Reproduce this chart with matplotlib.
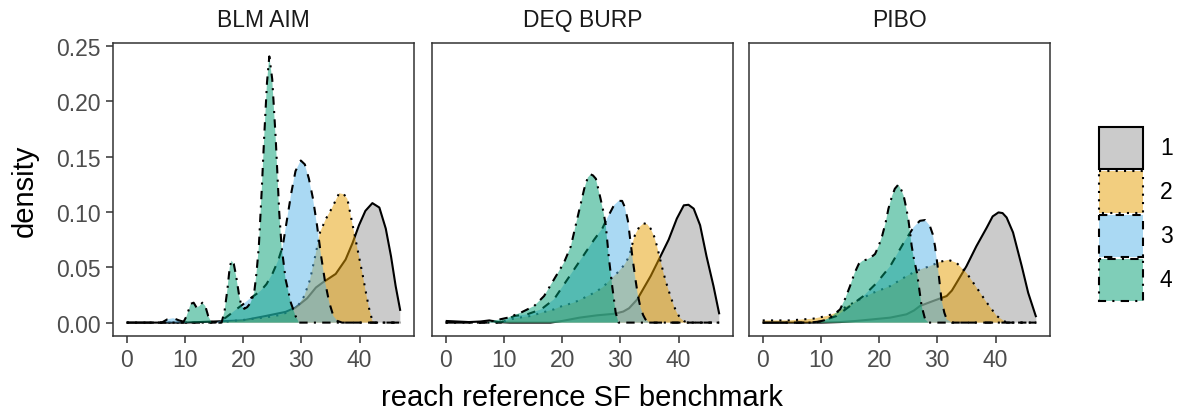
import matplotlib
matplotlib.use("Agg")
import matplotlib.pyplot as plt
from matplotlib.patches import Rectangle

plt.rcParams['font.family'] = ['Liberation Sans', 'DejaVu Sans']

# ---------------- data ----------------
panels = ["BLM AIM", "DEQ BURP", "PIBO"]
groups = ["1", "2", "3", "4"]
colors = ["#999999", "#E69F00", "#56B4E9", "#009E73"]
xticks = [0, 10, 20, 30, 40]
yticks = [0.00, 0.05, 0.10, 0.15, 0.20, 0.25]

# BLM AIM
blm_x1 = [0, 10, 15, 20, 23.9, 27.3, 29, 31, 32.5, 33.6, 35.9, 37.6, 38.8, 39.9, 41, 42.2, 43.4, 44.5, 45.4, 46.2, 47]
blm_y1 = [0, 0, 0.001, 0.002, 0.006, 0.0097, 0.0136, 0.022, 0.0317, 0.036, 0.044, 0.057, 0.072, 0.088, 0.101, 0.108, 0.104, 0.085, 0.06, 0.033, 0.0106]
blm_x2 = [0, 15.8, 18, 20, 22, 24, 26, 27.5, 28.5, 29.6, 30.5, 31.5, 32.5, 33.2, 34.2, 35.3, 36.5, 37.3, 37.9, 38.6, 39.3, 40, 40.5, 41.1, 41.6, 42.2, 42.7, 47]
blm_y2 = [0, 0, 0.0015, 0.0024, 0.0036, 0.0048, 0.0066, 0.009, 0.012, 0.0166, 0.024, 0.039, 0.063, 0.0815, 0.0936, 0.104, 0.117, 0.116, 0.112, 0.0936, 0.0755, 0.057, 0.044, 0.027, 0.0136, 0.0015, 0, 0]
blm_x3 = [0, 6, 7, 8, 9, 10, 11, 15.2, 16, 17, 18, 19, 20, 21, 22, 23, 24, 25, 26, 26.8, 27.5, 28.3, 29, 29.9, 30.6, 31.3, 32, 32.7, 33.4, 34.1, 34.8, 35.5, 36.2, 37, 47]
blm_y3 = [0, 0, 0.003, 0.004, 0.002, 0.0005, 0, 0, 0.0015, 0.0045, 0.0085, 0.0127, 0.0166, 0.021, 0.0248, 0.0287, 0.0347, 0.0438, 0.0559, 0.069, 0.092, 0.118, 0.137, 0.1465, 0.143, 0.13, 0.112, 0.0876, 0.06, 0.036, 0.018, 0.006, 0.0015, 0, 0]
blm_x4 = [0, 9.7, 10.3, 11, 11.5, 12, 12.5, 13, 13.5, 14, 14.5, 15, 16.3, 16.8, 17.3, 17.7, 18, 18.4, 18.8, 19.3, 19.7, 20.2, 20.7, 21.3, 21.9, 22.3, 22.7, 23.2, 23.6, 24.1, 24.5, 25, 25.6, 26.2, 26.6, 27.3, 28.2, 29, 29.6, 47]
blm_y4 = [0, 0, 0.006, 0.017, 0.018, 0.0136, 0.015, 0.018, 0.015, 0.006, 0.001, 0, 0, 0.01, 0.03, 0.05, 0.056, 0.053, 0.042, 0.025, 0.015, 0.0125, 0.014, 0.018, 0.027, 0.045, 0.069, 0.12, 0.166, 0.217, 0.2406, 0.22, 0.166, 0.1, 0.069, 0.039, 0.018, 0.006, 0, 0]

# DEQ BURP
deq_x1 = [0, 2, 4, 6, 7.5, 9, 11, 18, 20, 23, 26, 29, 30.5, 31.5, 32.9, 35.2, 36.9, 38.3, 39.7, 40.9, 41.7, 42.6, 43.7, 44.8, 46, 47]
deq_y1 = [0.0015, 0.001, 0.0005, 0.001, 0.002, 0.0005, 0, 0, 0.0015, 0.0045, 0.0066, 0.008, 0.01, 0.013, 0.021, 0.042, 0.06, 0.075, 0.094, 0.106, 0.1065, 0.103, 0.088, 0.06, 0.033, 0.0075]
deq_x2 = [0, 9.5, 10.5, 12, 14.6, 16.5, 18.6, 20, 22, 24, 25.5, 27, 28.3, 29.3, 30, 30.8, 31.5, 32, 32.5, 33.2, 34, 34.6, 35.2, 35.8, 36.3, 36.8, 37.4, 38, 38.6, 39.2, 39.7, 40.3, 40.9, 41.5, 47]
deq_y2 = [0, 0, 0.002, 0.004, 0.006, 0.009, 0.012, 0.015, 0.018, 0.023, 0.027, 0.032, 0.039, 0.044, 0.048, 0.053, 0.06, 0.07, 0.079, 0.086, 0.0897, 0.089, 0.085, 0.078, 0.069, 0.058, 0.045, 0.034, 0.024, 0.015, 0.009, 0.004, 0.0015, 0, 0]
deq_x3 = [0, 9.5, 10.5, 11.8, 14, 16.4, 18.6, 20.9, 23.2, 25.5, 26.9, 27.7, 28.9, 29.7, 30.3, 30.8, 31.3, 31.7, 32.1, 32.6, 33, 33.4, 33.9, 34.3, 35, 47]
deq_y3 = [0, 0, 0.003, 0.006, 0.0075, 0.012, 0.021, 0.039, 0.057, 0.075, 0.085, 0.094, 0.106, 0.110, 0.11, 0.104, 0.092, 0.075, 0.058, 0.039, 0.025, 0.015, 0.007, 0.003, 0, 0]
deq_x4 = [0, 7, 8.5, 10.7, 12.9, 15.2, 16.9, 18.6, 20.3, 21.5, 22.6, 23.8, 24.4, 24.9, 25.3, 25.8, 26.6, 27.1, 27.5, 28, 28.6, 29.2, 29.7, 47]
deq_y4 = [0, 0, 0.002, 0.0045, 0.009, 0.015, 0.024, 0.039, 0.054, 0.069, 0.094, 0.121, 0.131, 0.134, 0.133, 0.13, 0.112, 0.1, 0.088, 0.06, 0.033, 0.009, 0, 0]

# PIBO
pibo_x1 = [0, 10, 13.3, 16, 19, 21.9, 24.7, 26, 27, 29.3, 31.6, 32.5, 33.3, 35, 36.7, 38.5, 39.5, 40.5, 41.2, 41.9, 43, 44.5, 45.6, 46.9, 47]
pibo_y1 = [0, 0, 0.0005, 0.0015, 0.003, 0.0045, 0.0075, 0.011, 0.015, 0.0196, 0.024, 0.029, 0.036, 0.051, 0.069, 0.086, 0.096, 0.0996, 0.099, 0.095, 0.0815, 0.051, 0.027, 0.006, 0.005]
pibo_x2 = [0, 4.7, 8.7, 11, 12.7, 14.5, 16.7, 19, 21.9, 24.7, 26.5, 28.7, 30.5, 31.9, 33.3, 35, 36.7, 38.5, 40.2, 41.9, 47]
pibo_y2 = [0.002, 0.002, 0.0036, 0.006, 0.009, 0.015, 0.021, 0.027, 0.033, 0.042, 0.047, 0.051, 0.055, 0.0567, 0.054, 0.045, 0.032, 0.018, 0.006, 0, 0]
pibo_x3 = [0, 8, 9.9, 11, 12.7, 15, 17.3, 19.6, 21.9, 24.2, 25.9, 27, 27.9, 28.7, 29.2, 29.6, 30.2, 30.7, 31.2, 31.6, 32.5, 47]
pibo_y3 = [0, 0, 0.001, 0.003, 0.006, 0.015, 0.024, 0.036, 0.051, 0.072, 0.086, 0.092, 0.0927, 0.0876, 0.08, 0.069, 0.045, 0.021, 0.009, 0.003, 0, 0]
pibo_x4 = [0, 9, 10.5, 11.6, 13.3, 14.2, 15, 15.8, 16.5, 17.2, 17.9, 18.6, 19.3, 19.9, 20.5, 21.1, 21.6, 22.2, 22.7, 23.3, 23.8, 24.2, 24.6, 25, 25.3, 25.6, 26, 26.5, 26.9, 27.3, 27.9, 28.5, 47]
pibo_y4 = [0, 0, 0.002, 0.0045, 0.012, 0.022, 0.033, 0.045, 0.053, 0.056, 0.057, 0.059, 0.062, 0.069, 0.078, 0.09, 0.103, 0.114, 0.121, 0.1247, 0.12, 0.115, 0.105, 0.094, 0.082, 0.069, 0.057, 0.045, 0.03, 0.015, 0.003, 0, 0]

curves = [
    [(blm_x1, blm_y1), (blm_x2, blm_y2), (blm_x3, blm_y3), (blm_x4, blm_y4)],
    [(deq_x1, deq_y1), (deq_x2, deq_y2), (deq_x3, deq_y3), (deq_x4, deq_y4)],
    [(pibo_x1, pibo_y1), (pibo_x2, pibo_y2), (pibo_x3, pibo_y3), (pibo_x4, pibo_y4)],
]

# ---------------- styling ----------------
W, H = 1178, 414
fig = plt.figure(figsize=(W / 100, H / 100), dpi=100)
linestyles = ["solid", (0, (1, 3)), (0, (4, 4)), (0, (1, 3, 4, 3))]
LW = 1.5
edge = "#333333"
tick_col = "#4D4D4D"
TS = 16.5

panel_left = [113, 432, 749]
panel_w = 301
p_top, p_bot = 44, 337

def fx(px):
    return px / W

def fy(py):
    return 1 - py / H

for i, name in enumerate(panels):
    ax = fig.add_axes([fx(panel_left[i]), fy(p_bot), panel_w / W, (p_bot - p_top) / H])
    for g in range(4):
        xs, ys = curves[i][g]
        ax.fill_between(xs, 0, ys, facecolor=colors[g], alpha=0.5, linewidth=0, zorder=2 + g)
        ax.plot(xs, ys, color="black", lw=LW, linestyle=linestyles[g], zorder=2 + g,
                solid_capstyle="butt", dash_capstyle="butt")
    ax.set_xlim(-2.35, 49.35)
    ax.set_ylim(-0.0121, 0.2527)
    ax.set_xticks(xticks)
    ax.set_xticklabels([str(t) for t in xticks])
    ax.set_yticks(yticks)
    if i == 0:
        ax.set_yticklabels([f"{t:.2f}" for t in yticks])
    else:
        ax.tick_params(axis="y", left=False, labelleft=False)
    ax.tick_params(axis="both", direction="out", length=5, width=1.1, color=edge,
                   labelsize=TS, labelcolor=tick_col, pad=4)
    for sp in ax.spines.values():
        sp.set_color(edge)
        sp.set_linewidth(1.1)
    ax.set_title(name, fontsize=TS, color="#1A1A1A", pad=12)

# axis titles
fig.text(fx((113 + 1050) / 2), fy(406), "reach reference SF benchmark", fontsize=21,
         ha="center", va="baseline")
fig.text(fx(25), fy((p_top + p_bot) / 2), "density", fontsize=21, rotation=90,
         ha="center", va="center")

# legend
lax = fig.add_axes([0, 0, 1, 1])
lax.set_xlim(0, W)
lax.set_ylim(H, 0)
lax.axis("off")
key_top = [128, 172, 216, 260]
for g in range(4):
    y0 = key_top[g]
    lax.add_patch(Rectangle((1099, y0), 44, 42, facecolor=colors[g], alpha=0.5,
                            edgecolor="none"))
    lax.add_patch(Rectangle((1099, y0), 44, 42, facecolor="none", edgecolor="black",
                            lw=LW, linestyle=linestyles[g]))
    lax.text(1160, y0 + 21, groups[g], fontsize=TS, ha="left", va="center", color="black")

fig.savefig("out.png", dpi=100)
